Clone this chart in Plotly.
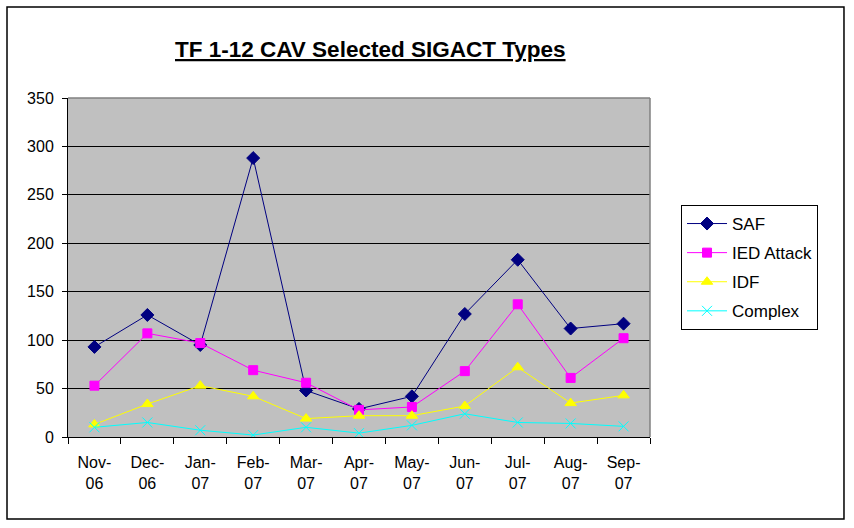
import plotly.graph_objects as go

months = ["Nov-06", "Dec-06", "Jan-07", "Feb-07", "Mar-07", "Apr-07",
          "May-07", "Jun-07", "Jul-07", "Aug-07", "Sep-07"]
tick_labels = ["Nov-<br>06", "Dec-<br>06", "Jan-<br>07", "Feb-<br>07", "Mar-<br>07", "Apr-<br>07",
               "May-<br>07", "Jun-<br>07", "Jul-<br>07", "Aug-<br>07", "Sep-<br>07"]

saf = [93, 126, 95, 288, 48, 29, 42, 127, 183, 112, 117]
ied = [53, 107, 97, 69, 56, 28, 31, 68, 137, 61, 102]
idf = [13, 34, 53, 42, 19, 22, 22, 32, 72, 35, 43]
cplx = [10, 15, 7, 2, 10, 4, 12, 24, 15, 14, 11]

series = [
    ("SAF", saf, "#000080", "diamond", 10),
    ("IED Attack", ied, "#FF00FF", "square", 9),
    ("IDF", idf, "#FFFF00", "triangle-up", 10),
    ("Complex", cplx, "#00FFFF", "x-thin-open", 10),
]

FONT = "Arial, Liberation Sans, sans-serif"

fig = go.Figure()
for name, vals, col, sym, sz in series:
    fig.add_trace(go.Scatter(
        x=months, y=vals, name=name, mode="lines+markers", legendgroup=name,
        line=dict(color=col, width=1),
        marker=dict(symbol=sym, size=sz, color=col, line=dict(color=col, width=1)),
    ))

fig.update_layout(
    width=854, height=528,
    margin=dict(l=68, r=204, t=98, b=91),
    paper_bgcolor="white",
    plot_bgcolor="#C0C0C0",
    font=dict(family=FONT, size=16, color="black"),
    showlegend=True,
    legend=dict(
        x=1.0533, y=0.6844, xanchor="left", yanchor="top",
        bgcolor="white", bordercolor="black", borderwidth=1,
        font=dict(family=FONT, size=17, color="black"),
        itemwidth=40, tracegroupgap=4,
    ),
    annotations=[dict(
        text="<b><u>TF 1-12 CAV Selected SIGACT Types</u></b>",
        xref="paper", yref="paper", x=0.5206, y=1.1416,
        xanchor="center", yanchor="middle", showarrow=False,
        font=dict(family=FONT, size=22.5, color="black"),
    )],
    shapes=[
        dict(type="rect", xref="paper", yref="paper",
             x0=-0.1048, x1=1.3333, y0=-0.2419, y1=1.2684,
             line=dict(color="black", width=1.5), fillcolor="rgba(0,0,0,0)", layer="below"),
        dict(type="line", xref="paper", yref="paper", x0=0, x1=1, y0=1, y1=1,
             line=dict(color="#808080", width=1.5)),
        dict(type="line", xref="paper", yref="paper", x0=1, x1=1, y0=0, y1=1,
             line=dict(color="#808080", width=1.5)),
    ],
)

fig.update_xaxes(
    type="category", categoryorder="array", categoryarray=months,
    tickmode="array", tickvals=months, ticktext=tick_labels,
    tickson="boundaries", ticks="outside", ticklen=6, tickcolor="black",
    showline=True, linecolor="black", linewidth=1, ticklabelstandoff=11,
    showgrid=False, tickfont=dict(family=FONT, size=16, color="black"),
    range=[-0.5, 10.5],
)
fig.update_yaxes(
    range=[0, 350], dtick=50, tick0=0,
    ticks="outside", ticklen=5, tickcolor="black", ticklabelstandoff=5,
    showline=True, linecolor="black", linewidth=1,
    showgrid=True, gridcolor="black", gridwidth=1,
    zeroline=False, tickfont=dict(family=FONT, size=16, color="black"),
)

fig.write_html("out.html")
